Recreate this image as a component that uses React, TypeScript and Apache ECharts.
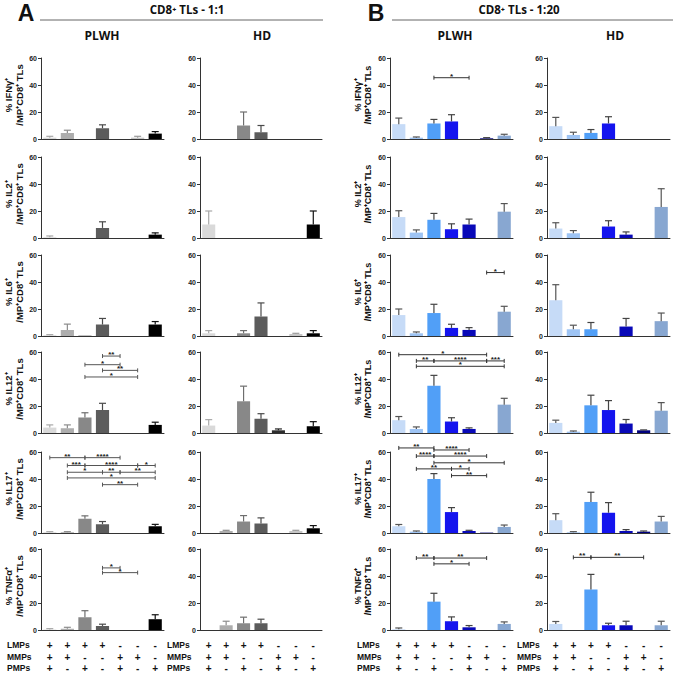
import React, { useEffect, useRef } from "react";
import * as echarts from "echarts";

// ---- categories (stimulation combinations) ----
const LMPs = ["+", "+", "+", "+", "-", "-", "-"];
const MMPs = ["+", "+", "-", "-", "+", "+", "-"];
const PMPs = ["+", "-", "+", "-", "+", "-", "+"];
const categories = LMPs.map((l, i) => l + MMPs[i] + PMPs[i]);

const yTicks = [0, 20, 40, 60];

// ---- row labels ----
const cytokines = ["IFNγ", "IL2", "IL6", "IL12", "IL17", "TNFα"];

// ---- IFNγ ----
const IFNg_A_PLWH = [1, 4.5, 0, 8, 0, 1, 4];
const IFNg_A_PLWH_sem = [1, 2, 0, 2.5, 0, 1, 1.5];
const IFNg_A_HD = [0, 0, 10, 5, 0, 0, 0];
const IFNg_A_HD_sem = [0, 0, 10, 5, 0, 0, 0];
const IFNg_B_PLWH = [11, 1, 11.5, 13, 0, 0.5, 2.5];
const IFNg_B_PLWH_sem = [4.5, 0.5, 3, 5, 0, 0.5, 1];
const IFNg_B_HD = [9.5, 3, 4.5, 11.5, 0, 0, 0];
const IFNg_B_HD_sem = [6.5, 2, 2.5, 5, 0, 0, 0];

// ---- IL2 ----
const IL2_A_PLWH = [0.5, 0, 0, 7.5, 0, 0, 2.5];
const IL2_A_PLWH_sem = [1, 0, 0, 4.5, 0, 0, 1.3];
const IL2_A_HD = [10, 0, 0, 0, 0, 0, 10];
const IL2_A_HD_sem = [10, 0, 0, 0, 0, 0, 10];
const IL2_B_PLWH = [15.5, 4, 13.5, 6.5, 10, 0, 19.5];
const IL2_B_PLWH_sem = [4.7, 2, 4.7, 4, 4, 0, 6];
const IL2_B_HD = [7, 3.5, 0, 8.5, 2.5, 0, 23];
const IL2_B_HD_sem = [4.3, 2, 0, 4.3, 2, 0, 13.5];

// ---- IL6 ----
const IL6_A_PLWH = [0.5, 4.5, 0.3, 8.5, 0, 0, 8.5];
const IL6_A_PLWH_sem = [0.5, 4.3, 0, 4.5, 0, 0, 2.2];
const IL6_A_HD = [2, 0, 2, 14.5, 0, 1.5, 2];
const IL6_A_HD_sem = [2, 0, 2, 10, 0, 0.5, 2];
const IL6_B_PLWH = [15.5, 2, 17, 6, 4.5, 0, 18];
const IL6_B_PLWH_sem = [4.5, 1, 6.5, 2.7, 1.7, 0, 4];
const IL6_B_HD = [26.5, 5, 5, 0, 7, 0, 11];
const IL6_B_HD_sem = [11.5, 3, 5, 0, 6, 0, 6];

// ---- IL12 ----
const IL12_A_PLWH = [4, 3.5, 11.5, 17, 0, 0, 6];
const IL12_A_PLWH_sem = [2, 2.5, 3.5, 5, 0, 0, 2];
const IL12_A_HD = [5.5, 0, 23.5, 10.5, 2, 0, 5];
const IL12_A_HD_sem = [4.4, 0, 11.2, 3.8, 1, 0, 3.4];
const IL12_B_PLWH = [9.5, 3, 35, 8.5, 3, 0, 21];
const IL12_B_PLWH_sem = [2.7, 1.5, 7.7, 2.8, 0.8, 0, 4.7];
const IL12_B_HD = [7.5, 1, 20.5, 17, 7, 2, 16.5];
const IL12_B_HD_sem = [2, 0.5, 7.5, 7, 3, 0.3, 6];

// ---- IL17 ----
const IL17_A_PLWH = [0.5, 0.5, 10.5, 6.5, 0, 0, 5];
const IL17_A_PLWH_sem = [0.5, 0.5, 2.2, 2, 0, 0, 1.4];
const IL17_A_HD = [0, 1.5, 8.5, 7, 0, 1.5, 3.5];
const IL17_A_HD_sem = [0, 0.5, 4.4, 4.2, 0, 0.5, 2];
const IL17_B_PLWH = [5, 1, 40, 15.5, 1.5, 0.3, 4.5];
const IL17_B_PLWH_sem = [1.3, 0.5, 4, 3.3, 0.5, 0, 1.4];
const IL17_B_HD = [9.5, 0.5, 23, 15, 1.5, 1, 8.5];
const IL17_B_HD_sem = [4.8, 0.5, 7.2, 7.5, 1, 0.5, 3.8];

// ---- TNFα ----
const TNFa_A_PLWH = [0.3, 1, 9.5, 3, 0, 0, 8];
const TNFa_A_PLWH_sem = [0.7, 1, 4.8, 1.3, 0, 0, 3.3];
const TNFa_A_HD = [0, 3.5, 5, 5, 0, 0, 0];
const TNFa_A_HD_sem = [0, 3, 4.5, 3, 0, 0, 0];
const TNFa_B_PLWH = [0.5, 0, 21, 6.5, 2, 0, 4.5];
const TNFa_B_PLWH_sem = [1, 0, 6.2, 3.2, 1.3, 0, 1.5];
const TNFa_B_HD = [4.5, 0, 30, 3.5, 3.5, 0, 3.5];
const TNFa_B_HD_sem = [1.8, 0, 11.2, 1.5, 3, 0, 3];

// ---- significance brackets: [fromCat, toCat, yValue, stars] ----
const sig_IFNg_B_PLWH = [[2, 4, 45.4, "*"]];
const sig_IL6_B_PLWH = [[5, 6, 47, "*"]];
const sig_IL12_A_PLWH = [
  [3, 4, 57, "**"],
  [2, 4, 50.6, "*"],
  [3, 5, 46.4, "**"],
  [2, 5, 41.5, "*"],
];
const sig_IL12_B_PLWH = [
  [0, 5, 58, "*"],
  [1, 2, 53.4, "**"],
  [2, 5, 53.4, "****"],
  [5, 6, 53.4, "***"],
  [1, 6, 49.4, "*"],
];
const sig_IL17_A_PLWH = [
  [0, 2, 55.8, "**"],
  [2, 4, 55.8, "****"],
  [1, 2, 50, "***"],
  [2, 5, 50, "****"],
  [5, 6, 50, "*"],
  [1, 3, 45, "*"],
  [3, 4, 45, "**"],
  [4, 6, 45, "**"],
  [1, 6, 40.8, "*"],
  [3, 5, 35.8, "**"],
];
const sig_IL17_B_PLWH = [
  [0, 2, 63, "**"],
  [2, 4, 61.5, "****"],
  [1, 2, 57, "****"],
  [2, 5, 57, "****"],
  [2, 6, 52, "*"],
  [1, 3, 47.5, "**"],
  [3, 4, 47.5, "*"],
  [3, 5, 42.5, "**"],
];
const sig_TNFa_A_PLWH = [
  [3, 4, 46, "*"],
  [3, 5, 42.5, "*"],
];
const sig_TNFa_B_PLWH = [
  [1, 2, 53.3, "**"],
  [2, 5, 53.3, "**"],
  [2, 4, 49, "*"],
];
const sig_TNFa_B_HD = [
  [1, 2, 53.8, "**"],
  [2, 5, 53.8, "**"],
];

// ---- colours ----
const grayColors = ["#d9d9d9", "#adadad", "#888888", "#5c5c5c", "#2e2e2e", "#c6c6c6", "#000000"];
const grayErr = ["#a8a8a8", "#8c8c8c", "#6e6e6e", "#4a4a4a", "#222222", "#9a9a9a", "#111111"];
const blueColors = ["#c6dbf7", "#9ec4f4", "#519ff7", "#1414ee", "#0909b8", "#00007e", "#88a7d1"];
const blueErr = ["#555", "#555", "#444", "#444", "#444", "#444", "#555"];

const rowData = [
  [[IFNg_A_PLWH, IFNg_A_PLWH_sem], [IFNg_A_HD, IFNg_A_HD_sem], [IFNg_B_PLWH, IFNg_B_PLWH_sem], [IFNg_B_HD, IFNg_B_HD_sem]],
  [[IL2_A_PLWH, IL2_A_PLWH_sem], [IL2_A_HD, IL2_A_HD_sem], [IL2_B_PLWH, IL2_B_PLWH_sem], [IL2_B_HD, IL2_B_HD_sem]],
  [[IL6_A_PLWH, IL6_A_PLWH_sem], [IL6_A_HD, IL6_A_HD_sem], [IL6_B_PLWH, IL6_B_PLWH_sem], [IL6_B_HD, IL6_B_HD_sem]],
  [[IL12_A_PLWH, IL12_A_PLWH_sem], [IL12_A_HD, IL12_A_HD_sem], [IL12_B_PLWH, IL12_B_PLWH_sem], [IL12_B_HD, IL12_B_HD_sem]],
  [[IL17_A_PLWH, IL17_A_PLWH_sem], [IL17_A_HD, IL17_A_HD_sem], [IL17_B_PLWH, IL17_B_PLWH_sem], [IL17_B_HD, IL17_B_HD_sem]],
  [[TNFa_A_PLWH, TNFa_A_PLWH_sem], [TNFa_A_HD, TNFa_A_HD_sem], [TNFa_B_PLWH, TNFa_B_PLWH_sem], [TNFa_B_HD, TNFa_B_HD_sem]],
];

const sigList: { row: number; col: number; items: any[] }[] = [
  { row: 0, col: 2, items: sig_IFNg_B_PLWH },
  { row: 2, col: 2, items: sig_IL6_B_PLWH },
  { row: 3, col: 0, items: sig_IL12_A_PLWH },
  { row: 3, col: 2, items: sig_IL12_B_PLWH },
  { row: 4, col: 0, items: sig_IL17_A_PLWH },
  { row: 4, col: 2, items: sig_IL17_B_PLWH },
  { row: 5, col: 0, items: sig_TNFa_A_PLWH },
  { row: 5, col: 2, items: sig_TNFa_B_PLWH },
  { row: 5, col: 3, items: sig_TNFa_B_HD },
];

// ---- layout ----
const colLeft = [41, 200, 390, 547];
const colWidth = [123, 122, 123, 123];
const rowTop = [58, 157, 255, 352, 452, 549];
const gridH = 81;

const FONT = "Liberation Sans";

function buildOption() {
  const grid: any[] = [];
  const xAxis: any[] = [];
  const yAxis: any[] = [];
  const series: any[] = [];
  const graphic: any[] = [];

  for (let r = 0; r < 6; r++) {
    for (let c = 0; c < 4; c++) {
      const idx = r * 4 + c;
      const isA = c < 2;
      const colors = isA ? grayColors : blueColors;
      const errColors = isA ? grayErr : blueErr;
      const [mean, sem] = rowData[r][c];
      grid.push({ left: colLeft[c], top: rowTop[r], width: colWidth[c], height: gridH });
      xAxis.push({
        type: "category",
        gridIndex: idx,
        data: categories,
        boundaryGap: true,
        axisLine: { lineStyle: { color: "#333", width: 1 } },
        axisTick: { alignWithLabel: true, length: 3, lineStyle: { color: "#333" } },
        splitLine: { show: false },
        axisLabel:
          r === 5
            ? {
                show: true,
                interval: 0,
                margin: 10,
                fontSize: 10,
                fontWeight: "bold",
                fontFamily: FONT,
                color: "#111",
                lineHeight: 11.5,
                formatter: (_v: string, i: number) => [LMPs[i], MMPs[i], PMPs[i]].join("\n"),
              }
            : { show: false },
      });
      yAxis.push({
        type: "value",
        gridIndex: idx,
        min: yTicks[0],
        max: yTicks[yTicks.length - 1],
        interval: 20,
        axisLine: { show: true, lineStyle: { color: "#333", width: 1 } },
        axisTick: { show: true, length: 3, lineStyle: { color: "#333" } },
        splitLine: { show: false },
        axisLabel: { fontSize: 7, fontWeight: "bold", fontFamily: FONT, color: "#222", margin: 4 },
      });
      series.push({
        type: "bar",
        xAxisIndex: idx,
        yAxisIndex: idx,
        barWidth: "75%",
        data: mean.map((v: number, i: number) => ({ value: v, itemStyle: { color: colors[i] } })),
        z: 2,
      });
      const errData = mean
        .map((m: number, i: number) => [i, m, m + sem[i]])
        .filter((d: number[]) => d[2] > d[1]);
      series.push({
        type: "custom",
        xAxisIndex: idx,
        yAxisIndex: idx,
        encode: { x: 0, y: [1, 2] },
        data: errData,
        z: 3,
        clip: false,
        renderItem: (_p: any, api: any) => {
          const ci = api.value(0);
          const p0 = api.coord([ci, api.value(1)]);
          const p1 = api.coord([ci, api.value(2)]);
          const col = errColors[ci];
          return {
            type: "group",
            children: [
              { type: "line", shape: { x1: p0[0], y1: p0[1], x2: p1[0], y2: p1[1] }, style: { stroke: col, lineWidth: 1.2 } },
              { type: "line", shape: { x1: p1[0] - 3.5, y1: p1[1], x2: p1[0] + 3.5, y2: p1[1] }, style: { stroke: col, lineWidth: 1.2 } },
            ],
          };
        },
      });
    }
  }

  sigList.forEach((s) => {
    const idx = s.row * 4 + s.col;
    const items = s.items;
    series.push({
      type: "custom",
      xAxisIndex: idx,
      yAxisIndex: idx,
      encode: { x: [0, 1], y: 2 },
      data: items.map((d: any[]) => [d[0], d[1], d[2]]),
      z: 4,
      clip: false,
      renderItem: (p: any, api: any) => {
        const a = api.coord([api.value(0), api.value(2)]);
        const b = api.coord([api.value(1), api.value(2)]);
        const label = items[p.dataIndex][3];
        const col = s.col < 2 ? "#555" : "#333";
        return {
          type: "group",
          children: [
            { type: "line", shape: { x1: a[0], y1: a[1], x2: b[0], y2: b[1] }, style: { stroke: col, lineWidth: 1 } },
            { type: "line", shape: { x1: a[0], y1: a[1] - 2, x2: a[0], y2: a[1] + 2 }, style: { stroke: col, lineWidth: 1 } },
            { type: "line", shape: { x1: b[0], y1: b[1] - 2, x2: b[0], y2: b[1] + 2 }, style: { stroke: col, lineWidth: 1 } },
            {
              type: "text",
              x: (a[0] + b[0]) / 2,
              y: a[1] + 1.5,
              style: {
                text: label,
                fill: "#222",
                fontSize: 8,
                lineHeight: 6,
                fontWeight: "bold",
                fontFamily: FONT,
                align: "center",
                verticalAlign: "bottom",
                textAlign: "center",
                textVerticalAlign: "bottom",
              },
            },
          ],
        };
      },
    });
  });

  // ---- headers ----
  const txt = (text: string, x: number, y: number, size: number, extra: any = {}) => ({
    type: "text",
    x,
    y,
    silent: true,
    ...extra,
    style: {
      text,
      fill: "#111",
      fontSize: size,
      fontWeight: "bold",
      fontFamily: extra.fontFamily || "Open Sans",
      align: extra.align || "center",
      verticalAlign: "middle",
      textAlign: extra.align || "center",
      textVerticalAlign: "middle",
      lineHeight: extra.lineHeight,
    },
  });

  graphic.push(txt("A", 26, 13, 23, { fontFamily: "Liberation Sans" }));
  graphic.push(txt("B", 376, 13, 23, { fontFamily: "Liberation Sans" }));
  graphic.push(txt("CD8⁺ TLs - 1:1", 187, 9, 11.5));
  graphic.push(txt("CD8⁺ TLs - 1:20", 519, 9, 11.5));
  graphic.push({ type: "line", shape: { x1: 40, y1: 20, x2: 323, y2: 20 }, style: { stroke: "#666", lineWidth: 1 } });
  graphic.push({ type: "line", shape: { x1: 392, y1: 20, x2: 673, y2: 20 }, style: { stroke: "#666", lineWidth: 1 } });
  graphic.push(txt("PLWH", 102, 35, 12));
  graphic.push(txt("HD", 262, 35, 12));
  graphic.push(txt("PLWH", 455, 35, 12));
  graphic.push(txt("HD", 615, 35, 12));

  // ---- y axis titles ----
  for (let r = 0; r < 6; r++) {
    const cy = rowTop[r] + 37;
    const t = "% " + cytokines[r] + "⁺\n/MP⁺CD8⁺ TLs";
    graphic.push(txt(t, 14, cy, 9.5, { rotation: Math.PI / 2, lineHeight: 11, fontFamily: FONT }));
    graphic.push(txt(t, 363, cy, 9, { rotation: Math.PI / 2, lineHeight: 10, fontFamily: FONT }));
  }

  // ---- bottom row labels ----
  const rowNames = ["LMPs", "MMPs", "PMPs"];
  const labelX = [7, 167, 357, 517];
  const labelY = [645, 657, 668];
  labelX.forEach((lx) => {
    rowNames.forEach((n, k) => {
      graphic.push(txt(n, lx, labelY[k], 8.5, { align: "left", fontFamily: FONT }));
    });
  });

  return {
    animation: false,
    backgroundColor: "#ffffff",
    grid,
    xAxis,
    yAxis,
    series,
    graphic,
  };
}

export default function App() {
  const ref = useRef<HTMLDivElement>(null);
  useEffect(() => {
    if (!ref.current) return;
    const chart = echarts.init(ref.current, null, { renderer: "svg" });
    chart.setOption(buildOption() as any);
    return () => chart.dispose();
  }, []);
  return <div ref={ref} style={{ position: "absolute", left: 0, top: 0, width: 675, height: 676 }} />;
}
